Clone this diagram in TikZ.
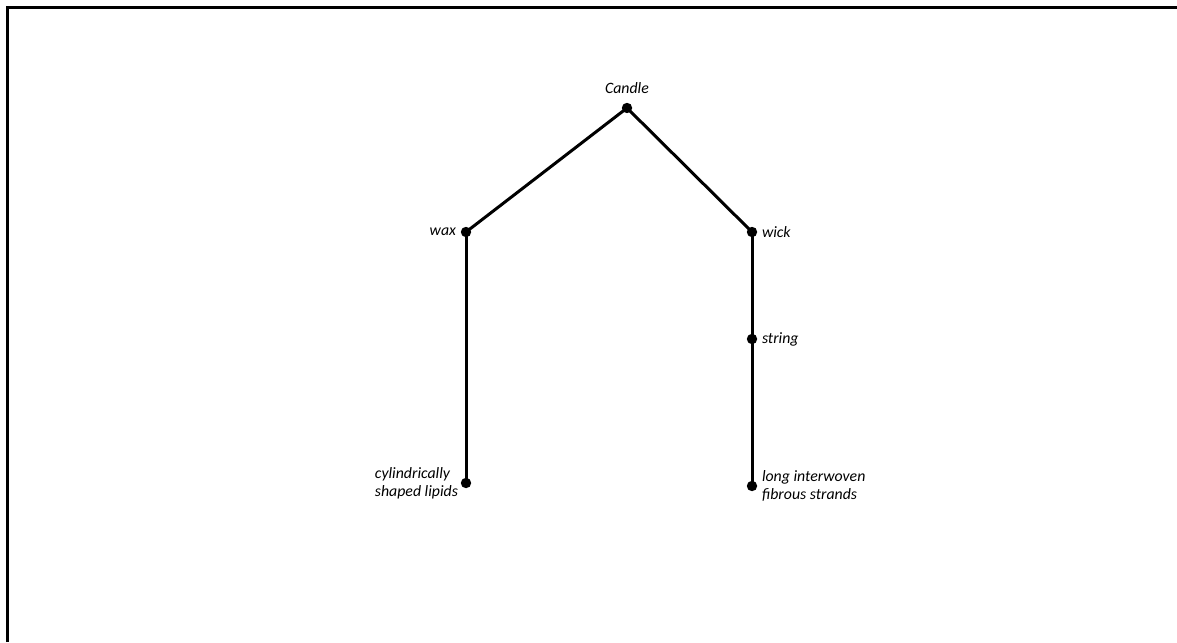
\documentclass[tikz,border=0pt]{standalone}
\usepackage{fontspec}
\setmainfont{Carlito}
\usetikzlibrary{positioning}

\begin{document}
\begin{tikzpicture}[
    node distance=50pt, on grid,
    dot/.style={circle, fill=black, inner sep=0pt, minimum size=5.2pt},
    tag/.style={font=\fontsize{7.9}{9}\selectfont\itshape, inner sep=1pt, align=left, label distance=1pt},
    branch/.style={line width=1.5pt}
]
\useasboundingbox (0,0) rectangle (588.5pt,-321pt);

% frame on the left and the top
\draw[line width=1.5pt] (3.5pt,-321pt) -- (3.5pt,-4pt) -- (588.5pt,-4pt);

% parts of the candle
\node[dot, label={[tag, label distance=3pt]above:Candle}] (candle) at (313.5pt,-54pt) {};
\node[dot, below left=62pt and 80.5pt of candle, label={[tag]left:wax}] (wax) {};
\node[dot, below right=62pt and 62.5pt of candle, label={[tag]right:wick}] (wick) {};
\node[dot, below=53.5pt of wick, label={[tag]right:string}] (string) {};
\node[dot, below=73.5pt of string, label={[tag]right:long interwoven\\fibrous strands}] (strands) {};
\node[dot, below=125.5pt of wax, label={[tag, label distance=0pt]left:cylindrically\\shaped lipids}] (lipids) {};

% branches
\draw[branch] (candle.center) -- (wax.center);
\draw[branch] (candle.center) -- (wick.center);
\draw[branch] (wick.center) -- (string.center) -- (strands.center);
\draw[branch] (wax.center) -- (lipids.center);

\end{tikzpicture}
\end{document}
